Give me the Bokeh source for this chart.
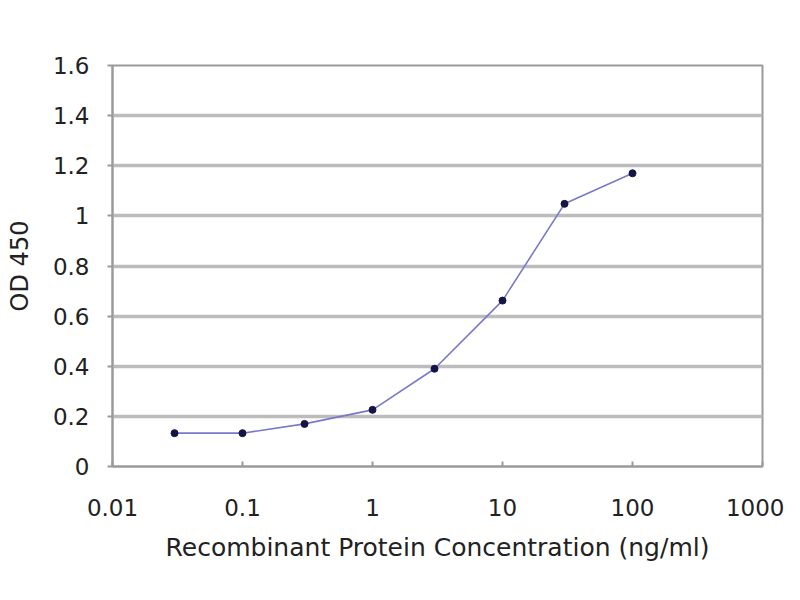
from bokeh.plotting import figure
from bokeh.models import FixedTicker, ColumnDataSource, Range1d
from bokeh.embed import file_html
from bokeh.resources import INLINE

# Data
concentration = [0.03, 0.1, 0.3, 1, 3, 10, 30, 100]
od450 = [0.133, 0.133, 0.17, 0.226, 0.39, 0.662, 1.048, 1.17]

x_ticks = [0.01, 0.1, 1, 10, 100, 1000]
x_tick_labels = ["0.01", "0.1", "1", "10", "100", "1000"]
y_ticks = [0, 0.2, 0.4, 0.6, 0.8, 1.0, 1.2, 1.4, 1.6]
y_tick_labels = ["0", "0.2", "0.4", "0.6", "0.8", "1", "1.2", "1.4", "1.6"]

FONT = "DejaVu Sans"
TXT = "#222222"

p = figure(width=784, height=584, x_axis_type="log",
           x_range=Range1d(0.01, 1000), y_range=Range1d(0, 1.6),
           output_backend="svg", toolbar_location=None,
           min_border_left=112, min_border_right=22,
           min_border_top=65, min_border_bottom=118)

p.outline_line_color = "#9a9a9a"
p.outline_line_width = 2
p.background_fill_color = "white"
p.border_fill_color = "white"

p.xgrid.grid_line_color = None
p.ygrid.grid_line_color = "#bcbcbc"
p.ygrid.grid_line_width = 3.5

p.xaxis.ticker = FixedTicker(ticks=x_ticks)
p.xaxis.major_label_overrides = {t: l for t, l in zip(x_ticks, x_tick_labels)}
p.yaxis.ticker = FixedTicker(ticks=y_ticks)
p.yaxis.major_label_overrides = {t: l for t, l in zip(y_ticks, y_tick_labels)}
p.xaxis.minor_tick_line_color = None
p.yaxis.minor_tick_line_color = None

for ax in (p.xaxis, p.yaxis):
    ax.axis_line_color = "#9a9a9a"
    ax.axis_line_width = 2
    ax.major_tick_line_color = "#9a9a9a"
    ax.major_tick_line_width = 2
    ax.major_label_text_font = FONT
    ax.major_label_text_font_size = "23px"
    ax.major_label_text_color = TXT
    ax.axis_label_text_font = FONT
    ax.axis_label_text_font_size = "24px"
    ax.axis_label_text_color = TXT
    ax.axis_label_text_font_style = "normal"

p.xaxis.axis_label_text_font_size = "25px"

p.xaxis.major_tick_in = 5
p.xaxis.major_tick_out = 0
p.yaxis.major_tick_in = 0
p.yaxis.major_tick_out = 5

p.xaxis.axis_label = "Recombinant Protein Concentration (ng/ml)"
p.yaxis.axis_label = "OD 450"
p.xaxis.major_label_standoff = 32
p.xaxis.axis_label_standoff = 14
p.yaxis.major_label_standoff = 18
p.yaxis.axis_label_standoff = 16

src = ColumnDataSource(dict(x=concentration, y=od450))
p.line("x", "y", source=src, line_color="#7a78c8", line_width=1.6)
p.scatter("x", "y", source=src, size=7, fill_color="#141446", line_color="#141446")

open("out.html", "w").write(file_html(p, INLINE))
